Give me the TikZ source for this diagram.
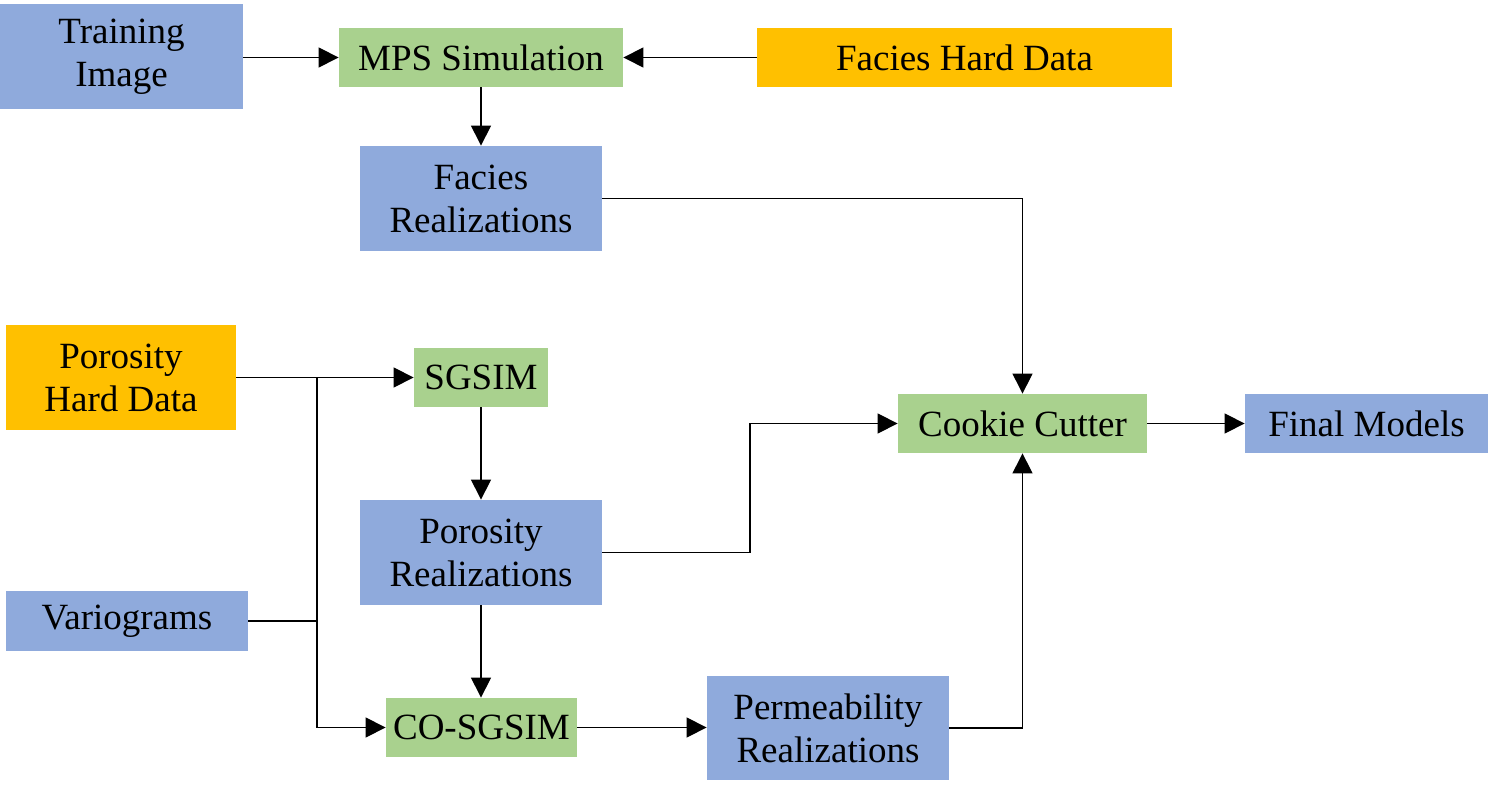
\documentclass[tikz,border=0pt]{standalone}
\usepackage{fontspec}
\setmainfont{Liberation Serif}
\usetikzlibrary{arrows.meta}
\definecolor{cblue}{HTML}{8FAADC}
\definecolor{cgreen}{HTML}{A9D18E}
\definecolor{corange}{HTML}{FFC000}
\begin{document}
\begin{tikzpicture}[x=0.5pt,y=-0.5pt,
  box/.style={rectangle,inner sep=0pt,align=center,font=\fontsize{18.5}{21.5}\selectfont},
  bluebox/.style={box,fill=cblue},
  greenbox/.style={box,fill=cgreen},
  orangebox/.style={box,fill=corange},
  conn/.style={line width=0.6pt,draw=black},
  arr/.style={conn,-{Triangle[length=10pt,width=10pt]}}]
\useasboundingbox (0,0) rectangle (1491,795);
\node[bluebox,minimum width=121.5pt,minimum height=52.5pt] (train) at (121.5,56.5) {Training\\Image};
\node[greenbox,minimum width=142pt,minimum height=29.5pt] (mps) at (481,57.5) {MPS Simulation};
\node[orangebox,minimum width=207.5pt,minimum height=29.5pt] (fhd) at (964.5,57.5) {Facies Hard Data};
\node[bluebox,minimum width=121pt,minimum height=52.5pt] (freal) at (481,198.5) {Facies\\Realizations};
\node[orangebox,minimum width=115pt,minimum height=52.5pt] (phd) at (121,377.5) {Porosity\\Hard Data};
\node[greenbox,minimum width=67pt,minimum height=29.5pt] (sgsim) at (481,377.5) {SGSIM};
\node[greenbox,minimum width=124.5pt,minimum height=29.5pt] (cookie) at (1022.5,423.5) {Cookie Cutter};
\node[bluebox,minimum width=121.5pt,minimum height=29.5pt] (final) at (1366.5,423.5) {Final Models};
\node[bluebox,minimum width=121pt,minimum height=52.5pt] (preal) at (481,552.5) {Porosity\\Realizations};
\node[bluebox,minimum width=121pt,minimum height=30pt] (vario) at (127,621) {Variograms};
\node[greenbox,minimum width=95.5pt,minimum height=29.5pt] (cosg) at (481.5,727.5) {CO-SGSIM};
\node[bluebox,minimum width=121pt,minimum height=52pt] (perm) at (828,728) {Permeability\\Realizations};
\coordinate (j1) at (317,377.5);
\coordinate (c1) at (750,552.5);
\draw[arr] (train.east |- mps.west) -- (mps.west);
\draw[arr] (fhd.west) -- (mps.east);
\draw[arr] (mps.south) -- (freal.north);
\draw[arr] (freal.east) -| (cookie.north);
\draw[arr] (phd.east) -- (sgsim.west);
\draw[conn] (vario.east) -- (vario.east -| j1);
\draw[arr] (j1) |- (cosg.west);
\draw[arr] (sgsim.south) -- (preal.north);
\draw[arr] (preal.east) -- (c1) |- (cookie.west);
\draw[arr] (preal.south) -- (preal.south |- cosg.north);
\draw[arr] (cosg.east) -- (cosg.east -| perm.west);
\draw[arr] (perm.east) -| (cookie.south);
\draw[arr] (cookie.east) -- (final.west);
\end{tikzpicture}
\end{document}
